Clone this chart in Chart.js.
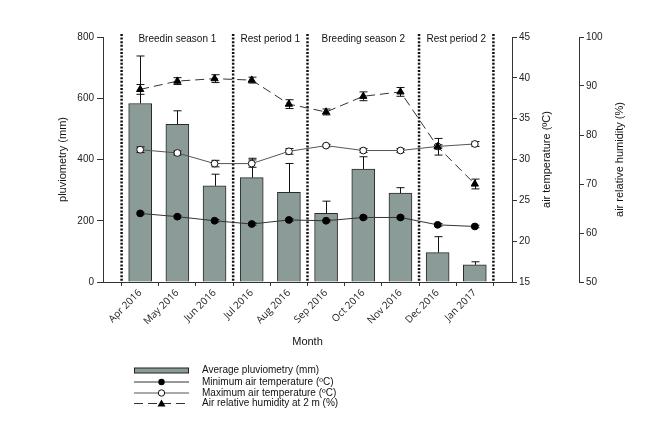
<!DOCTYPE html>
<html><head><meta charset="utf-8">
<script src="https://cdn.jsdelivr.net/npm/chart.js@4.4.0/dist/chart.umd.min.js"></script>
<style>html,body{margin:0;padding:0;background:#fff;}</style>
</head><body>
<canvas id="c" width="647" height="421"></canvas>
<script>
const months = ['Apr 2016','May 2016','Jun 2016','Jul 2016','Aug 2016','Sep 2016','Oct 2016','Nov 2016','Dec 2016','Jan 2017'];
const pluvio    = [583, 515, 314, 341, 293, 224, 369, 290, 96, 56];
const pluvioErr = [155, 44, 38, 63, 94, 40, 40, 18, 52, 10];
const tMin      = [23.4, 23.0, 22.5, 22.1, 22.6, 22.5, 22.9, 22.9, 22.0, 21.8];
const tMinErr   = [0.15, 0.15, 0.15, 0.15, 0.15, 0.15, 0.15, 0.15, 0.15, 0.15];
const tMax      = [31.2, 30.8, 29.5, 29.5, 31.0, 31.7, 31.1, 31.1, 31.6, 31.9];
const tMaxErr   = [0.35, 0.25, 0.4, 0.45, 0.35, 0.15, 0.25, 0.25, 0.2, 0.3];
const humidity  = [89.3, 91.0, 91.5, 91.2, 86.3, 84.7, 87.9, 88.8, 77.6, 70.0];
const humErr    = [1.0, 0.7, 0.8, 0.6, 0.9, 0.6, 0.9, 0.9, 1.7, 1.0];
const periods = [
  {label:'Breedin season 1', from:-0.5, to:2.5},
  {label:'Rest period 1', from:2.5, to:4.5},
  {label:'Breeding season 2', from:4.5, to:7.5},
  {label:'Rest period 2', from:7.5, to:9.5}
];
const legendItems = ['Average pluviometry (mm)','Minimum air temperature (ºC)','Maximum air temperature (ºC)','Air relative humidity at 2 m (%)'];

const BAR = '#8b9b98';
const INK = '#222';
const FONT = '"Liberation Sans", Arial, sans-serif';
const pts = arr => arr.map((v,i)=>({x:i, y:v}));

const errorPlugin = {
  id:'errbars',
  beforeDatasetDraw(chart, args){ const ds = chart.data.datasets[args.index]; if (ds.type==='line') drawErr(chart, args.index); },
  afterDatasetDraw(chart, args){ const ds = chart.data.datasets[args.index]; if (ds.type!=='line') drawErr(chart, args.index); }
};
function drawErr(chart, idx){
  const ds = chart.data.datasets[idx];
  if (!ds.errors) return;
  const meta = chart.getDatasetMeta(idx);
  const sc = chart.scales[meta.yAxisID];
  const ctx = chart.ctx;
  ctx.save();
  ctx.strokeStyle = '#111'; ctx.lineWidth = 1; ctx.setLineDash([]);
  meta.data.forEach((el,i)=>{
    const v = ds.data[i].y, e = ds.errors[i];
    const x = Math.round(el.x)+0.5;
    const yT = sc.getPixelForValue(v+e);
    const yB = ds.type==='line' ? sc.getPixelForValue(v-e) : el.y;
    ctx.beginPath(); ctx.moveTo(x, yB); ctx.lineTo(x, yT);
    ctx.moveTo(x-4, yT); ctx.lineTo(x+4, yT);
    if (ds.type==='line'){ ctx.moveTo(x-4, yB); ctx.lineTo(x+4, yB); }
    ctx.stroke();
  });
  ctx.restore();
}

const decor = {
  id:'decor',
  beforeDatasetsDraw(chart){
    const {ctx, chartArea:ca, scales:{x}} = chart;
    ctx.save();
    ctx.strokeStyle = '#111'; ctx.lineWidth = 2.5; ctx.setLineDash([2,1.6]);
    const bounds = [-0.5, 2.5, 4.5, 7.5, 9.5];
    bounds.forEach(b=>{
      const px = x.getPixelForValue(b);
      ctx.beginPath(); ctx.moveTo(px, ca.top-3); ctx.lineTo(px, ca.bottom+1); ctx.stroke();
    });
    ctx.restore();
  },
  afterDraw(chart){
    const {ctx, chartArea:ca, scales:{x}} = chart;
    ctx.save();
    ctx.fillStyle = '#111';
    ctx.textAlign = 'center'; ctx.textBaseline = 'middle';
    ctx.font = '10px ' + FONT;
    periods.forEach(p=>{
      const cx = (x.getPixelForValue(p.from) + x.getPixelForValue(p.to))/2;
      ctx.fillText(p.label, cx, ca.top + 2.5);
    });
    ctx.font = '11px ' + FONT;
    ctx.fillText('Month', (ca.left+ca.right)/2, 341.5);
    const midY = (ca.top+ca.bottom)/2;
    [['pluviometry (mm)', 63], ['air temperature (ºC)', 547], ['air relative humidity (%)', 620]].forEach(([t, tx])=>{
      ctx.save(); ctx.translate(tx, midY); ctx.rotate(-Math.PI/2); ctx.fillText(t, 0, 0); ctx.restore();
    });
    // legend
    const x0 = 134, x1 = 189, mx = 161.5, tx = 202;
    const rows = [370.5, 382, 393, 403.5];
    ctx.textAlign = 'left'; ctx.font = '10px ' + FONT;
    rows.forEach((ry,i)=>{ ctx.fillStyle = '#111'; ctx.fillText(legendItems[i], tx, ry); });
    // bar swatch
    ctx.fillStyle = BAR; ctx.fillRect(x0, rows[0]-2.5, x1-x0, 5);
    ctx.strokeStyle = '#222'; ctx.lineWidth = 1; ctx.strokeRect(x0+0.5, rows[0]-2.5, x1-x0-1, 5);
    // min line
    ctx.strokeStyle = '#333';
    ctx.beginPath(); ctx.moveTo(x0, rows[1]); ctx.lineTo(x1, rows[1]); ctx.stroke();
    ctx.fillStyle = '#000'; ctx.beginPath(); ctx.arc(mx, rows[1], 3.2, 0, Math.PI*2); ctx.fill();
    // max line
    ctx.strokeStyle = '#555';
    ctx.beginPath(); ctx.moveTo(x0, rows[2]); ctx.lineTo(x1, rows[2]); ctx.stroke();
    ctx.fillStyle = '#fff'; ctx.strokeStyle = '#111';
    ctx.beginPath(); ctx.arc(mx, rows[2], 3.2, 0, Math.PI*2); ctx.fill(); ctx.stroke();
    // humidity
    ctx.strokeStyle = '#333'; ctx.setLineDash([9,5]);
    ctx.beginPath(); ctx.moveTo(x0, rows[3]); ctx.lineTo(x1, rows[3]); ctx.stroke();
    ctx.setLineDash([]);
    ctx.fillStyle = '#000';
    ctx.beginPath(); ctx.moveTo(mx, rows[3]-4); ctx.lineTo(mx+4, rows[3]+3); ctx.lineTo(mx-4, rows[3]+3); ctx.closePath(); ctx.fill();
    ctx.restore();
  }
};

const axisCommon = {
  grid:{drawOnChartArea:false, drawTicks:true, color:'#333'},
  border:{display:true, color:'#333', width:1}
};

new Chart(document.getElementById('c'), {
  type:'bar',
  data:{ datasets:[
    { type:'line', label:legendItems[1], data:pts(tMin), errors:tMinErr, yAxisID:'yT', order:2,
      borderColor:'#333', borderWidth:1, tension:0, pointRadius:3.4, pointBackgroundColor:'#000', pointBorderColor:'#000', pointBorderWidth:1 },
    { type:'line', label:legendItems[2], data:pts(tMax), errors:tMaxErr, yAxisID:'yT', order:1,
      borderColor:'#555', borderWidth:1, tension:0, pointRadius:3.4, pointBackgroundColor:'#fff', pointBorderColor:'#111', pointBorderWidth:1 },
    { type:'line', label:legendItems[3], data:pts(humidity), errors:humErr, yAxisID:'yH', order:0,
      borderColor:'#333', borderWidth:1, borderDash:[9,5], tension:0, pointStyle:'triangle', pointRadius:4.2, pointBackgroundColor:'#000', pointBorderColor:'#000', pointBorderWidth:1 },
    { type:'bar', label:legendItems[0], data:pts(pluvio), errors:pluvioErr, yAxisID:'y', xAxisID:'x', order:5,
      backgroundColor:BAR, borderColor:'#2a2a2a', borderWidth:1, barThickness:23 }
  ]},
  options:{
    responsive:false, animation:false, devicePixelRatio:1,
    layout:{padding:{top:37, left:0, right:0, bottom:0}},
    plugins:{legend:{display:false}, tooltip:{enabled:false}},
    scales:{
      x:{ type:'linear', position:'bottom', min:-1, max:10, offset:false,
        afterBuildTicks:s=>{ s.ticks = months.map((m,i)=>({value:i})); },
        ticks:{ autoSkip:false, minRotation:45, maxRotation:45, padding:1, color:INK,
          font:{family:'"Open Sans", sans-serif', size:10}, callback:v=>months[v] },
        grid:{...axisCommon.grid, tickLength:4}, border:axisCommon.border,
        afterFit:s=>{ s.height = 139; } },
      y:{ type:'linear', position:'left', min:0, max:800,
        ticks:{ stepSize:200, padding:3, color:INK, font:{family:FONT, size:10} },
        grid:{...axisCommon.grid, tickLength:6}, border:axisCommon.border,
        afterFit:s=>{ s.width = 103; } },
      yT:{ type:'linear', position:'right', weight:0, min:15, max:45,
        ticks:{ stepSize:5, padding:2, color:INK, font:{family:FONT, size:10} },
        grid:{...axisCommon.grid, tickLength:5}, border:axisCommon.border,
        afterFit:s=>{ s.width = 67; } },
      yH:{ type:'linear', position:'right', weight:1, min:50, max:100,
        ticks:{ stepSize:10, padding:2, color:INK, font:{family:FONT, size:10} },
        grid:{...axisCommon.grid, tickLength:5}, border:axisCommon.border,
        afterFit:s=>{ s.width = 68; } }
    }
  },
  plugins:[errorPlugin, decor]
});
</script>
</body></html>
